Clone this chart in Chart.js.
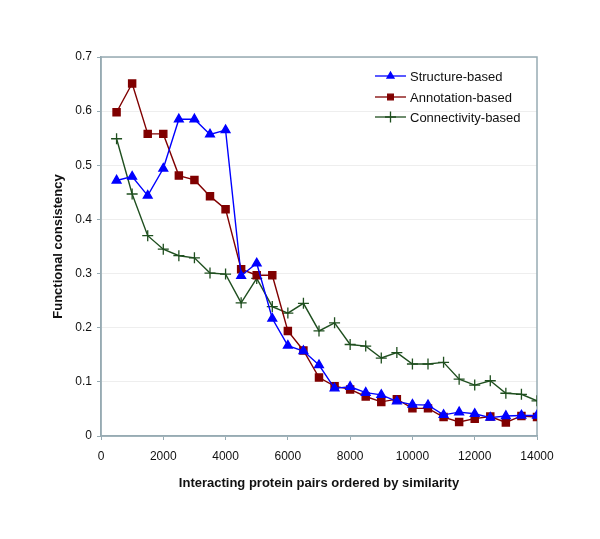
<!DOCTYPE html>
<html>
<head>
<meta charset="utf-8">
<script src="https://cdn.jsdelivr.net/npm/chart.js@4"></script>
<style>
    html, body { margin: 0; padding: 0; background: #ffffff; }
    #wrap { width: 600px; height: 539px; }
</style>
</head>
<body>
<div id="wrap"><canvas id="consistencyChart" width="600" height="539"></canvas></div>
<script>
const pairCounts = [500, 1000, 1500, 2000, 2500, 3000, 3500, 4000, 4500, 5000, 5500, 6000, 6500, 7000,
    7500, 8000, 8500, 9000, 9500, 10000, 10500, 11000, 11500, 12000, 12500, 13000, 13500, 14000];

const structureBased = [0.472, 0.479, 0.444, 0.494, 0.585, 0.585, 0.557, 0.565, 0.296, 0.319, 0.217, 0.167, 0.157, 0.131,
    0.088, 0.091, 0.080, 0.076, 0.064, 0.058, 0.057, 0.039, 0.044, 0.041, 0.034, 0.037, 0.038, 0.038];

const annotationBased = [0.598, 0.651, 0.558, 0.558, 0.481, 0.473, 0.443, 0.419, 0.308, 0.297, 0.297, 0.194, 0.158, 0.108,
    0.092, 0.086, 0.073, 0.063, 0.068, 0.051, 0.051, 0.035, 0.026, 0.032, 0.036, 0.025, 0.037, 0.035];

const connectivityBased = [0.549, 0.447, 0.370, 0.345, 0.333, 0.329, 0.301, 0.299, 0.246, 0.291, 0.239, 0.227, 0.245, 0.194,
    0.209, 0.169, 0.166, 0.144, 0.154, 0.133, 0.133, 0.136, 0.105, 0.094, 0.102, 0.079, 0.077, 0.065];

const xTicks = [0, 2000, 4000, 6000, 8000, 10000, 12000, 14000];
const yTicks = [0, 0.1, 0.2, 0.3, 0.4, 0.5, 0.6, 0.7];

const xTitle = 'Interacting protein pairs ordered by similarity';
const yTitle = 'Functional consistency';

const axisColor = '#97abb3';
const fontFamily = '"Liberation Sans", Arial, sans-serif';

function toPoints(values) {
    return pairCounts.map((x, i) => ({ x: x, y: values[i] }));
}

// legend sits inside the plot, top right, like the original
const insideLegend = {
    id: 'insideLegend',
    afterDraw(chart) {
        const ctx = chart.ctx;
        const lineStart = 375, lineEnd = 406, textX = 410;
        const rows = [76, 97, 117];
        ctx.save();
        chart.data.datasets.forEach((ds, i) => {
            const y = rows[i];
            ctx.strokeStyle = ds.borderColor;
            ctx.lineWidth = 1.3;
            ctx.beginPath();
            ctx.moveTo(lineStart, y);
            ctx.lineTo(lineEnd, y);
            ctx.stroke();
            ctx.fillStyle = ds.pointBackgroundColor;
            ctx.strokeStyle = ds.pointBorderColor;
            ctx.lineWidth = 1.3;
            Chart.helpers.drawPoint(ctx, {
                pointStyle: ds.pointStyle,
                rotation: 0,
                radius: ds.pointStyle === 'cross' ? 5.5 : 4,
                borderWidth: 1.3
            }, (lineStart + lineEnd) / 2, y);
            ctx.fillStyle = '#111';
            ctx.font = '13px ' + fontFamily;
            ctx.textAlign = 'left';
            ctx.textBaseline = 'middle';
            ctx.fillText(ds.label, textX, y + 1);
        });
        ctx.restore();
    }
};

// plot frame and the two axis titles
const frameAndTitles = {
    id: 'frameAndTitles',
    beforeDatasetsDraw(chart) {
        const a = chart.chartArea;
        const ctx = chart.ctx;
        ctx.save();
        ctx.strokeStyle = axisColor;
        ctx.lineWidth = 1.5;
        ctx.strokeRect(a.left, a.top, a.right - a.left, a.bottom - a.top);
        ctx.restore();
    },
    afterDraw(chart) {
        const a = chart.chartArea;
        const ctx = chart.ctx;
        ctx.save();
        ctx.fillStyle = '#111';
        ctx.font = 'bold 13px ' + fontFamily;
        ctx.textAlign = 'center';
        ctx.textBaseline = 'middle';
        ctx.fillText(xTitle, (a.left + a.right) / 2, 483);
        ctx.translate(58, (a.top + a.bottom) / 2);
        ctx.rotate(-Math.PI / 2);
        ctx.fillText(yTitle, 0, 0);
        ctx.restore();
    }
};

const ctx = document.getElementById('consistencyChart').getContext('2d');
const chart = new Chart(ctx, {
    type: 'line',
    data: {
        datasets: [
            {
                label: 'Structure-based',
                data: toPoints(structureBased),
                borderColor: '#0000ff',
                backgroundColor: '#0000ff',
                pointBackgroundColor: '#0000ff',
                pointBorderColor: '#0000ff',
                pointStyle: 'triangle',
                pointRadius: 5,
                borderWidth: 1.4
            },
            {
                label: 'Annotation-based',
                data: toPoints(annotationBased),
                borderColor: '#800000',
                backgroundColor: '#800000',
                pointBackgroundColor: '#800000',
                pointBorderColor: '#800000',
                pointStyle: 'rect',
                pointRadius: 5,
                borderWidth: 1.4
            },
            {
                label: 'Connectivity-based',
                data: toPoints(connectivityBased),
                borderColor: '#1f4f1f',
                backgroundColor: '#1f4f1f',
                pointBackgroundColor: '#1f4f1f',
                pointBorderColor: '#1f4f1f',
                pointStyle: 'cross',
                pointRadius: 5.5,
                pointBorderWidth: 1.3,
                borderWidth: 1.4
            }
        ]
    },
    options: {
        responsive: false,
        animation: false,
        devicePixelRatio: 1,
        layout: { padding: { left: 0, right: 63, top: 57, bottom: 0 } },
        plugins: {
            legend: { display: false },
            tooltip: { enabled: false }
        },
        scales: {
            x: {
                type: 'linear',
                min: 0,
                max: 14000,
                afterFit: (scale) => { scale.height = 103; },
                afterBuildTicks: (scale) => { scale.ticks = xTicks.map(v => ({ value: v })); },
                ticks: {
                    color: '#111',
                    font: { family: fontFamily, size: 12 },
                    padding: 9,
                    maxRotation: 0,
                    callback: (v) => String(v)
                },
                grid: { drawOnChartArea: false, tickLength: 4, color: axisColor },
                border: { color: axisColor, width: 1.5 }
            },
            y: {
                min: 0,
                max: 0.7,
                afterFit: (scale) => { scale.width = 101; },
                afterBuildTicks: (scale) => { scale.ticks = yTicks.map(v => ({ value: v })); },
                ticks: {
                    color: '#111',
                    font: { family: fontFamily, size: 12 },
                    padding: 5,
                    callback: (v) => v === 0 ? '0' : v.toFixed(1)
                },
                grid: { color: '#eeeeee', tickColor: axisColor, tickLength: 4 },
                border: { color: axisColor, width: 1.5 }
            }
        }
    },
    plugins: [frameAndTitles, insideLegend]
});
</script>
</body>
</html>
